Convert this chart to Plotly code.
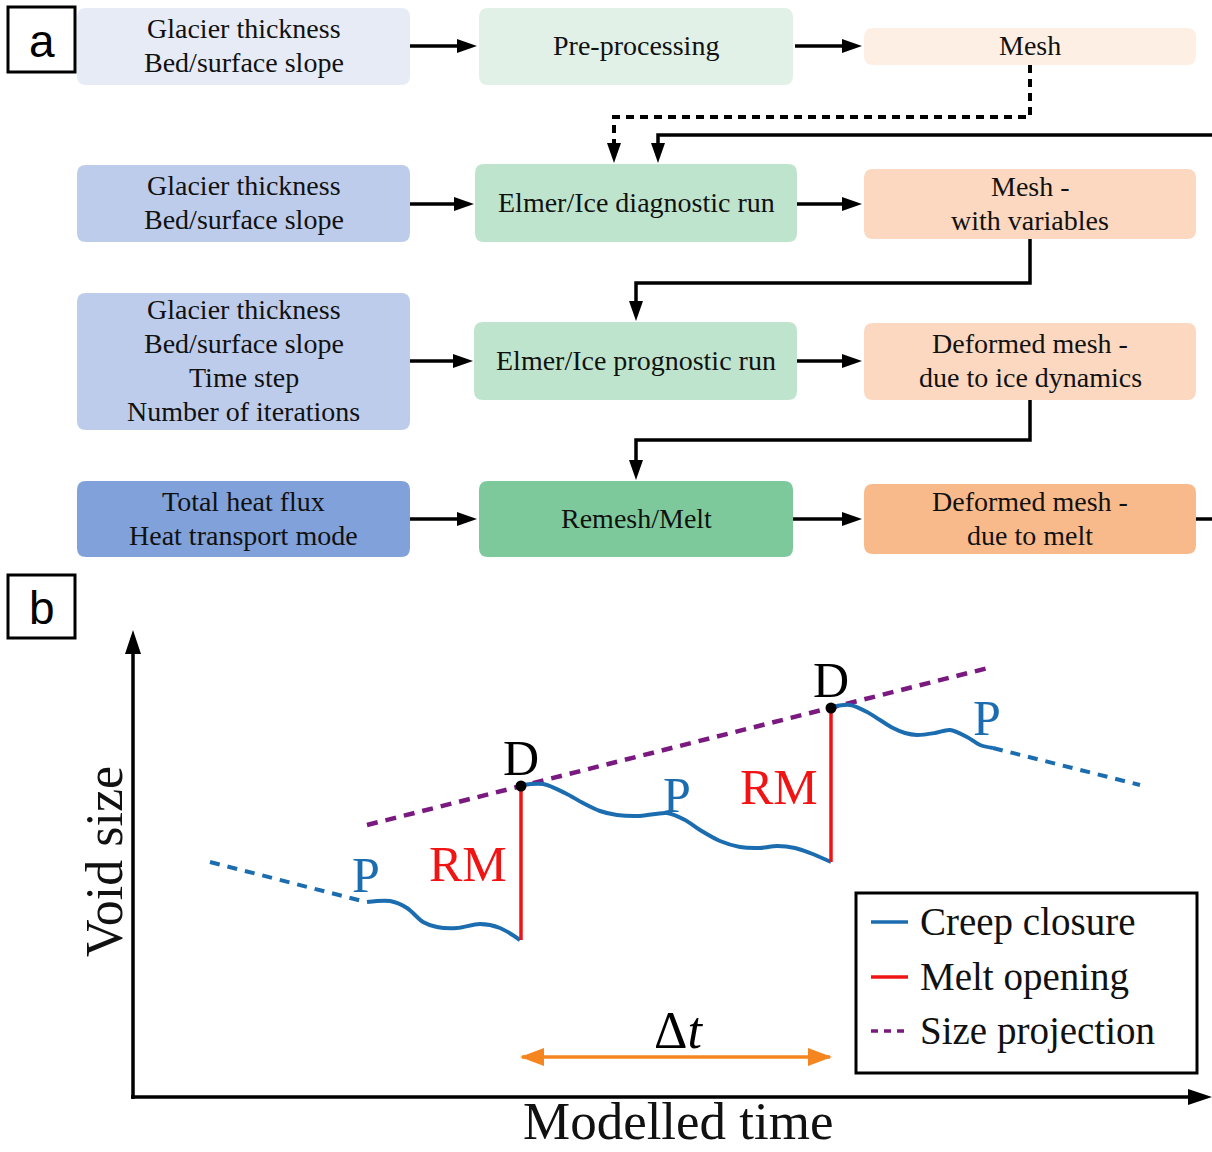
import plotly.graph_objects as go

W, H = 1212, 1152
SERIF = "Liberation Serif"
SANS = "Liberation Sans"
INK = "#111111"

# ---------------- panel a: model workflow ----------------
input_labels = [
    ["Glacier thickness", "Bed/surface slope"],
    ["Glacier thickness", "Bed/surface slope"],
    ["Glacier thickness", "Bed/surface slope", "Time step", "Number of iterations"],
    ["Total heat flux", "Heat transport mode"],
]
process_labels = [
    ["Pre-processing"],
    ["Elmer/Ice diagnostic run"],
    ["Elmer/Ice prognostic run"],
    ["Remesh/Melt"],
]
output_labels = [
    ["Mesh"],
    ["Mesh -", "with variables"],
    ["Deformed mesh -", "due to ice dynamics"],
    ["Deformed mesh -", "due to melt"],
]

# box extents (x0, x1, y0, y1) in page pixels, y pointing down
input_boxes = [(77, 410, 8, 85), (77, 410, 165, 242), (77, 410, 293, 430), (77, 410, 481, 557)]
process_boxes = [(479, 793, 8, 85), (475, 797, 164, 242), (474, 797, 322, 400), (479, 793, 481, 557)]
output_boxes = [(864, 1196, 28, 65), (864, 1196, 169, 239), (864, 1196, 323, 400), (864, 1196, 484, 554)]
input_fill = ["#e6ebf6", "#bdcceb", "#bdcceb", "#80a1d9"]
process_fill = ["#e1f1e7", "#bfe4cd", "#bfe4cd", "#7dc99b"]
output_fill = ["#fdefe4", "#fbd8bf", "#fbd8bf", "#f9ba8b"]

# connectors: polyline vertices, dashed flag, arrowhead at the end
connectors = [
    ([(410, 46), (477, 46)], False, True),
    ([(795, 46), (862, 46)], False, True),
    ([(410, 204), (474, 204)], False, True),
    ([(797, 204), (862, 204)], False, True),
    ([(410, 361), (473, 361)], False, True),
    ([(797, 361), (862, 361)], False, True),
    ([(410, 519), (477, 519)], False, True),
    ([(793, 519), (862, 519)], False, True),
    ([(1196, 519), (1212, 519)], False, False),
    ([(1030, 65), (1030, 117), (614, 117), (614, 163)], True, True),
    ([(1212, 135), (658, 135), (658, 163)], False, True),
    ([(1030, 239), (1030, 283), (636, 283), (636, 321)], False, True),
    ([(1030, 400), (1030, 440), (636, 440), (636, 480)], False, True),
]

# ---------------- panel b: void size through modelled time ----------------
# (time, size) pairs, origin at the axes corner
creep_1_t = [234, 257, 274, 290, 304, 324, 347, 367, 387]
creep_1_s = [195, 196, 189, 175, 170, 169, 173, 169, 157]
creep_2_t = [389, 410, 432, 450, 467, 484, 507, 534, 552, 567, 587, 607, 627, 644, 662, 677, 698]
creep_2_s = [312, 313, 304, 294, 286, 282, 281, 284, 277, 267, 256, 250, 249, 251, 249, 244, 235]
creep_3_t = [699, 717, 734, 747, 760, 772, 784, 802, 817, 834, 847, 860]
creep_3_s = [390, 392, 385, 377, 369, 364, 362, 364, 367, 360, 352, 349]
trend_before_t, trend_before_s = [77, 233], [235, 195]
trend_after_t, trend_after_s = [860, 1007], [349, 312]
projection_t, projection_s = [234, 855], [272, 429]
melt_t = [388, 698]
melt_low = [157, 235]
melt_high = [311, 389]
step_t = [389, 697]
step_s = 40

BLUE = "#1b6db0"
RED = "#f01414"
PURPLE = "#7a1a80"
ORANGE = "#f5861f"

shapes = []
annotations = []


def rounded(x0, x1, y0, y1, r=9):
    return (f"M{x0+r},{y0} L{x1-r},{y0} Q{x1},{y0} {x1},{y0+r} L{x1},{y1-r} "
            f"Q{x1},{y1} {x1-r},{y1} L{x0+r},{y1} Q{x0},{y1} {x0},{y1-r} "
            f"L{x0},{y0+r} Q{x0},{y0} {x0+r},{y0} Z")


def head(tip, prev, length=20, half=7, color="black", xref="x", yref="y"):
    tx, ty = tip
    dx, dy = tx - prev[0], ty - prev[1]
    n = (dx * dx + dy * dy) ** 0.5
    ux, uy = dx / n, dy / n
    bx, by = tx - ux * length, ty - uy * length
    px, py = -uy * half, ux * half
    return dict(type="path", xref=xref, yref=yref,
                path=f"M{tx},{ty} L{bx+px},{by+py} L{bx-px},{by-py} Z",
                fillcolor=color, line=dict(width=0), layer="above")


def add_text(x, y, text, size, color=INK, family=SERIF, xanchor="center", angle=0, xref="x", yref="y"):
    annotations.append(dict(x=x, y=y, xref=xref, yref=yref, text=text, showarrow=False,
                            xanchor=xanchor, yanchor="middle", textangle=angle,
                            font=dict(family=family, size=size, color=color)))


def box_with_text(box, fill, lines, size=28, gap=34):
    x0, x1, y0, y1 = box
    shapes.append(dict(type="path", xref="x", yref="y", path=rounded(x0, x1, y0, y1),
                       fillcolor=fill, line=dict(width=0), layer="below"))
    cx, cy = (x0 + x1) / 2, (y0 + y1) / 2
    n = len(lines)
    for i, t in enumerate(lines):
        add_text(cx, cy + (i - (n - 1) / 2) * gap - 1, t, size)


for boxes, fills, labels in [(input_boxes, input_fill, input_labels),
                             (process_boxes, process_fill, process_labels),
                             (output_boxes, output_fill, output_labels)]:
    for b, f, lab in zip(boxes, fills, labels):
        box_with_text(b, f, lab)

for pts, dashed, arrow in connectors:
    pts = list(pts)
    if arrow:
        (ax, ay), (px_, py_) = pts[-1], pts[-2]
        d = ((ax - px_) ** 2 + (ay - py_) ** 2) ** 0.5
        end = (ax - (ax - px_) / d * 12, ay - (ay - py_) / d * 12)
        draw = pts[:-1] + [end]
    else:
        draw = pts
    path = "M" + " L".join(f"{x},{y}" for x, y in draw)
    shapes.append(dict(type="path", xref="x", yref="y", path=path,
                       line=dict(color="black", width=4 if dashed else 3.5,
                                 dash="8px,6px" if dashed else "solid")))
    if arrow:
        shapes.append(head(pts[-1], pts[-2]))

# panel tags
for (x0, y0, x1, y1), tag in [((8, 7, 75, 72), "a"), ((8, 575, 75, 638), "b")]:
    shapes.append(dict(type="rect", xref="x", yref="y", x0=x0, x1=x1, y0=y0, y1=y1,
                       line=dict(color="black", width=3), fillcolor="white"))
    add_text((x0 + x1) / 2, (y0 + y1) / 2 + 1, tag, 46, color="black", family=SANS)

# panel b axes arrows (page pixels)
shapes.append(dict(type="line", xref="x", yref="y", x0=133, x1=133, y0=1099, y1=645,
                   line=dict(color="black", width=3.5)))
shapes.append(head((133, 630), (133, 700), length=24, half=8))
shapes.append(dict(type="line", xref="x", yref="y", x0=131, x1=1195, y0=1097, y1=1097,
                   line=dict(color="black", width=3.5)))
shapes.append(head((1212, 1097), (1100, 1097), length=24, half=8))
add_text(104, 862, "Void size", 52, angle=-90)
add_text(678, 1121, "Modelled time", 53)

fig = go.Figure()

X2 = dict(xaxis="x2", yaxis="y2")
for t, s in [(trend_before_t, trend_before_s), (trend_after_t, trend_after_s)]:
    fig.add_trace(go.Scatter(x=t, y=s, mode="lines", **X2, showlegend=False, hoverinfo="skip",
                             line=dict(color=BLUE, width=4, dash="10px,8px")))
fig.add_trace(go.Scatter(x=projection_t, y=projection_s, mode="lines", **X2, showlegend=False,
                         hoverinfo="skip", line=dict(color=PURPLE, width=4.5, dash="11px,8px")))
for t, s in [(creep_1_t, creep_1_s), (creep_2_t, creep_2_s), (creep_3_t, creep_3_s)]:
    fig.add_trace(go.Scatter(x=t, y=s, mode="lines", **X2, showlegend=False, hoverinfo="skip",
                             line=dict(color=BLUE, width=4, shape="spline", smoothing=0.85)))
for t, lo, hi in zip(melt_t, melt_low, melt_high):
    fig.add_trace(go.Scatter(x=[t, t], y=[lo, hi], mode="lines", **X2, showlegend=False,
                             hoverinfo="skip", line=dict(color=RED, width=3.5)))
fig.add_trace(go.Scatter(x=melt_t, y=melt_high, mode="markers", **X2, showlegend=False,
                         hoverinfo="skip", marker=dict(color="black", size=11)))
fig.add_trace(go.Scatter(x=step_t, y=[step_s, step_s], mode="lines", **X2, showlegend=False,
                         hoverinfo="skip", line=dict(color=ORANGE, width=3.5)))

# event labels
for t, hi in zip(melt_t, melt_high):
    add_text(t, hi + 28, "D", 50, color="black", xref="x2", yref="y2")
add_text(335, 233, "RM", 50, color=RED, xref="x2", yref="y2")
add_text(646, 310, "RM", 50, color=RED, xref="x2", yref="y2")
for t, s in [(233, 222), (544, 302), (854, 379)]:
    add_text(t, s, "P", 50, color=BLUE, xref="x2", yref="y2")
add_text(545, 67, "Δ<i>t</i>", 52, color="black", xref="x2", yref="y2")

# step arrow heads (page pixels)
shapes.append(head((520, 1057), (600, 1057), length=24, half=9, color=ORANGE))
shapes.append(head((832, 1057), (700, 1057), length=24, half=9, color=ORANGE))

# key
legend_names = ["Creep closure", "Melt opening", "Size projection"]
legend_colors = [BLUE, RED, PURPLE]
legend_dash = ["solid", "solid", "7px,6px"]
legend_y = [922, 977, 1031]
shapes.append(dict(type="rect", xref="x", yref="y", x0=856, x1=1197, y0=893, y1=1073,
                   line=dict(color="black", width=3), fillcolor="white", layer="below"))
for name, c, d, y in zip(legend_names, legend_colors, legend_dash, legend_y):
    shapes.append(dict(type="line", xref="x", yref="y", x0=871, x1=908, y0=y, y1=y,
                       line=dict(color=c, width=3.5, dash=d)))
    add_text(918, y, name, 39, color=INK, xanchor="left")

fig.update_layout(
    width=W, height=H, autosize=False,
    margin=dict(l=0, r=0, t=0, b=0, pad=0),
    paper_bgcolor="white", plot_bgcolor="rgba(0,0,0,0)",
    showlegend=False,
    xaxis=dict(range=[0, W], visible=False, fixedrange=True),
    yaxis=dict(range=[H, 0], visible=False, fixedrange=True),
    xaxis2=dict(domain=[133 / W, 1], range=[0, W - 133], visible=False, anchor="y2", fixedrange=True),
    yaxis2=dict(domain=[(H - 1097) / H, 1], range=[0, 1097], visible=False, anchor="x2", fixedrange=True),
    shapes=shapes,
    annotations=annotations,
)

fig.write_html("out.html")
